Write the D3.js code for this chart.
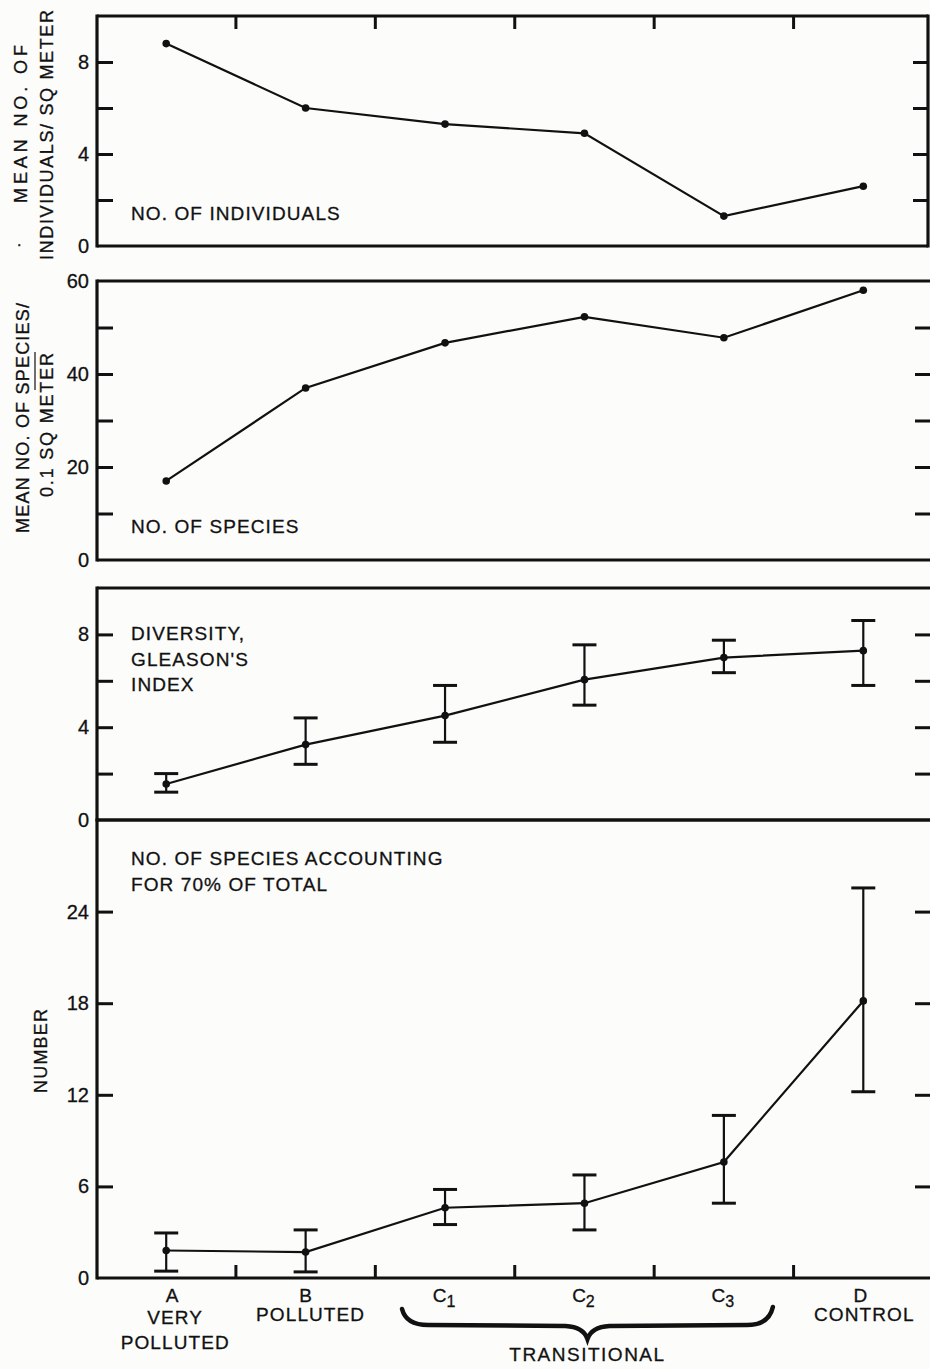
<!DOCTYPE html>
<html>
<head>
<meta charset="utf-8">
<script src="https://cdn.jsdelivr.net/npm/d3@7"></script>
<style>
  body { margin: 0; background: #fcfcfb; }
  svg { display: block; }
  text { font-family: "Liberation Sans", Arial, Helvetica, sans-serif; fill: #111; stroke: #111; stroke-width: 0.3px; }
</style>
</head>
<body>
<svg id="chart" width="930" height="1369"></svg>
<script>
const stations = ['A', 'B', 'C1', 'C2', 'C3', 'D'];
const stationNames = [['A', 'VERY', 'POLLUTED'], ['B', 'POLLUTED'], ['C', '1'], ['C', '2'], ['C', '3'], ['D', 'CONTROL']];

// mean no. of individuals / sq meter
const individuals = [8.8, 6.0, 5.3, 4.9, 1.3, 2.6];
// mean no. of species / 0.1 sq meter
const species = [17, 37, 46.7, 52.3, 47.8, 58];
// Gleason's index with range
const gleason = [1.55, 3.25, 4.5, 6.05, 7.0, 7.3];
const gleasonLow = [1.2, 2.4, 3.35, 4.95, 6.35, 5.8];
const gleasonHigh = [2.0, 4.4, 5.8, 7.55, 7.75, 8.6];
// no. of species accounting for 70% of total
const dominant = [1.8, 1.7, 4.6, 4.9, 7.6, 18.15];
const dominantLow = [0.45, 0.4, 3.5, 3.15, 4.9, 12.2];
const dominantHigh = [2.95, 3.15, 5.8, 6.75, 10.65, 25.55];

const panels = [
  { values: individuals, domain: [0, 10], range: [246, 16], ticks: [2, 4, 6, 8], labels: [0, 4, 8], label: ['NO. OF INDIVIDUALS'], labelY: 220 },
  { values: species, domain: [0, 60], range: [560, 281], ticks: [10, 20, 30, 40, 50], labels: [0, 20, 40, 60], label: ['NO. OF SPECIES'], labelY: 533 },
  { values: gleason, low: gleasonLow, high: gleasonHigh, domain: [0, 10], range: [820, 588], ticks: [2, 4, 6, 8], labels: [0, 4, 8], label: ['DIVERSITY,', "GLEASON'S", 'INDEX'], labelY: 640 },
  { values: dominant, low: dominantLow, high: dominantHigh, domain: [0, 30], range: [1278, 820], ticks: [6, 12, 18, 24], labels: [0, 6, 12, 18, 24], label: ['NO. OF SPECIES ACCOUNTING', 'FOR 70% OF TOTAL'], labelY: 865 },
];

const svg = d3.select('#chart');
const left = 97;
const right = 930;

const x = d3.scalePoint().domain(stations).range([96.5, 933]).padding(0.5);
const between = stations.slice(1).map(s => x(s) - x.step() / 2);

panels.forEach((p, i) => {
  const y = d3.scaleLinear().domain(p.domain).range(p.range);
  const g = svg.append('g');
  const rightEdge = i === 0 ? 928 : right;

  // inward ticks, left and right
  g.append('g')
    .attr('transform', `translate(${left},0)`)
    .call(d3.axisLeft(y).tickValues(p.ticks).tickSize(-16).tickFormat(''))
    .call(a => a.select('.domain').remove())
    .call(a => a.selectAll('line').attr('stroke', '#111').attr('stroke-width', 3));

  g.append('g')
    .attr('transform', `translate(${rightEdge},0)`)
    .call(d3.axisRight(y).tickValues(p.ticks).tickSize(-15).tickFormat(''))
    .call(a => a.select('.domain').remove())
    .call(a => a.selectAll('line').attr('stroke', '#111').attr('stroke-width', 3));

  g.append('g')
    .attr('transform', `translate(${left},0)`)
    .call(d3.axisLeft(y).tickValues(p.labels).tickSize(0).tickPadding(8))
    .call(a => a.select('.domain').remove())
    .call(a => a.selectAll('text')
      .attr('font-size', 20)
      .attr('font-family', '"Liberation Sans", Arial, sans-serif')
      .attr('fill', '#111'));

  // frame
  const frame = g.append('g').attr('stroke', '#111').attr('stroke-width', 3.2).attr('fill', 'none');
  frame.append('line').attr('x1', left).attr('x2', left).attr('y1', y.range()[0] + 1.5).attr('y2', y.range()[1] - 1.5);
  frame.append('line').attr('x1', left).attr('x2', rightEdge).attr('y1', y.range()[0]).attr('y2', y.range()[0]);
  frame.append('line').attr('x1', left).attr('x2', rightEdge).attr('y1', y.range()[1]).attr('y2', y.range()[1]);
  if (i === 0) {
    frame.append('line').attr('x1', rightEdge).attr('x2', rightEdge).attr('y1', y.range()[0] + 1.5).attr('y2', y.range()[1] - 1.5);
  }

  // error bars
  if (p.low) {
    const eb = g.append('g').attr('stroke', '#111').attr('fill', 'none');
    stations.forEach((s, j) => {
      eb.append('line').attr('x1', x(s)).attr('x2', x(s))
        .attr('y1', y(p.low[j])).attr('y2', y(p.high[j])).attr('stroke-width', 2.2);
      [p.low[j], p.high[j]].forEach(v => {
        eb.append('line').attr('x1', x(s) - 12).attr('x2', x(s) + 12)
          .attr('y1', y(v)).attr('y2', y(v)).attr('stroke-width', 3);
      });
    });
  }

  const line = d3.line().x((d, j) => x(stations[j])).y(d => y(d));
  g.append('path')
    .attr('d', line(p.values))
    .attr('fill', 'none')
    .attr('stroke', '#111')
    .attr('stroke-width', 2.2);

  g.selectAll('circle')
    .data(p.values)
    .join('circle')
    .attr('cx', (d, j) => x(stations[j]))
    .attr('cy', d => y(d))
    .attr('r', 3.8)
    .attr('fill', '#111');

  p.label.forEach((t, k) => {
    g.append('text')
      .attr('x', 131)
      .attr('y', p.labelY + k * 25.5)
      .attr('font-size', 19)
      .attr('letter-spacing', 1.1)
      .text(t);
  });
});

// ticks between stations: top of first panel, bottom of last
const topY = panels[0].range[1];
const botY = panels[3].range[0];
svg.append('g').attr('stroke', '#111').attr('stroke-width', 3)
  .selectAll('line.top').data(between).join('line')
  .attr('x1', d => d).attr('x2', d => d).attr('y1', topY).attr('y2', topY + 13);
svg.append('g').attr('stroke', '#111').attr('stroke-width', 3)
  .selectAll('line.bot').data(between).join('line')
  .attr('x1', d => d).attr('x2', d => d).attr('y1', botY).attr('y2', botY - 13);

// y axis titles
const titles = [
  { text: 'MEAN NO. OF', x: 27, y: 124, len: 158 },
  { text: 'INDIVIDUALS/ SQ METER', x: 53, y: 135, len: 250 },
  { text: 'MEAN NO. OF SPECIES/', x: 29, y: 418, len: 230 },
  { text: '0.1 SQ METER', x: 53, y: 425, len: 144 },
  { text: 'NUMBER', x: 47, y: 1051, len: 84 },
];
titles.forEach(t => {
  svg.append('text')
    .attr('transform', `translate(${t.x},${t.y}) rotate(-90)`)
    .attr('text-anchor', 'middle')
    .attr('font-size', 18)
    .attr('textLength', t.len)
    .attr('lengthAdjust', 'spacing')
    .text(t.text);
});
svg.append('line').attr('x1', 35).attr('x2', 35).attr('y1', 352).attr('y2', 390)
  .attr('stroke', '#333').attr('stroke-width', 1.4);
svg.append('text').attr('x', 17).attr('y', 246).attr('font-size', 16).text('.');

// station labels
const letterShift = [6, 0, 0, 0, 0, -3];
const nameShift = [9, 5, 0, 0, 0, 1];
stationNames.forEach((n, i) => {
  const cx = x(stations[i]);
  if (n[0] === 'C') {
    const t = svg.append('text').attr('x', cx - 1).attr('y', 1302)
      .attr('text-anchor', 'middle').attr('font-size', 19);
    t.append('tspan').text(n[0]);
    t.append('tspan').attr('dy', 5).attr('font-size', 16).text(n[1]);
    return;
  }
  svg.append('text').attr('x', cx + letterShift[i]).attr('y', 1302)
    .attr('text-anchor', 'middle').attr('font-size', 19).text(n[0]);
  n.slice(1).forEach((t, k) => {
    svg.append('text')
      .attr('x', cx + nameShift[i])
      .attr('y', (i === 0 ? 1324 : 1321) + k * 24.5)
      .attr('text-anchor', 'middle')
      .attr('font-size', 19)
      .attr('letter-spacing', 1.1)
      .text(t);
  });
});

// brace under the transitional stations
const bl = x('C1') - 43;
const br = x('C3') + 49;
const bm = x('C2') + 3;
const brace = d3.path();
brace.moveTo(bl, 1309);
brace.quadraticCurveTo(bl + 4, 1325, bl + 26, 1325);
brace.lineTo(bm - 22, 1326);
brace.quadraticCurveTo(bm - 4, 1327, bm, 1339);
brace.quadraticCurveTo(bm + 4, 1327, bm + 22, 1326);
brace.lineTo(br - 26, 1325);
brace.quadraticCurveTo(br - 4, 1325, br, 1307);
svg.append('path').attr('d', brace.toString())
  .attr('fill', 'none').attr('stroke', '#111').attr('stroke-width', 4.5).attr('stroke-linecap', 'round');

svg.append('text').attr('x', bm).attr('y', 1361)
  .attr('text-anchor', 'middle').attr('font-size', 19).attr('letter-spacing', 1.5)
  .text('TRANSITIONAL');
</script>
</body>
</html>
